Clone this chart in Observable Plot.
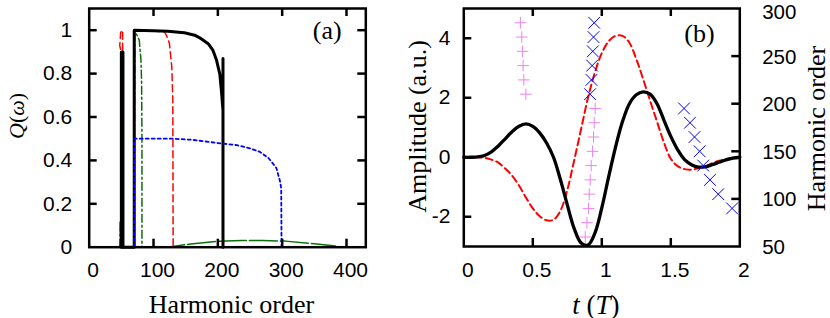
<!DOCTYPE html>
<html><head><meta charset="utf-8">
<script src="https://cdn.jsdelivr.net/npm/d3@7"></script>
<script src="https://cdn.jsdelivr.net/npm/@observablehq/plot@0.6"></script>
<style>
body{margin:0;background:#fff}
#wrap{position:relative;width:830px;height:318px;overflow:hidden;background:#fff}
#wrap svg{position:absolute;left:0;top:0}
</style></head><body><div id="wrap"></div>
<script>
// ---------- Panel (a) data: Q(omega) vs harmonic order ----------
const aXTicks = [0, 100, 200, 300, 400];
const aYTicks = [0, 0.2, 0.4, 0.6, 0.8, 1];

const blackH = [50, 50, 52.5, 52.5, 70, 70, 100, 122, 148, 164, 174, 185, 192.5, 198, 203, 205.5, 208, 208, 208];
const blackQ = [0, 0.9, 0.9, 0, 0, 1.0, 0.998, 0.995, 0.988, 0.977, 0.961, 0.938, 0.907, 0.861, 0.799, 0.722, 0.63, 0.87, 0];

const redH = [51, 51, 47.5, 49, 52, 52, 70, 70, 117, 121, 124.7, 128.4, 130, 130.5];
const redQ = [0, 0.88, 0.93, 0.99, 1.0, 0, 0, 1.0, 0.993, 0.97, 0.939, 0.83, 0.677, 0];

const greenH = [47.5, 48, 48.5, 70, 71, 73, 77.8, 80.5, 81.5, 82, 82];
const greenQ = [0, 0.12, 0, 0, 0.99, 0.985, 0.954, 0.862, 0.754, 0.5, 0];

const greenLowH = [105, 130, 158, 200, 237, 270, 305, 350, 383];
const greenLowQ = [0, 0.003, 0.015, 0.027, 0.031, 0.031, 0.028, 0.016, 0.006];

const blueH = [70, 70, 130, 160, 200, 230, 250, 265, 279, 291, 297, 298.5, 299];
const blueQ = [0, 0.5, 0.5, 0.495, 0.48, 0.47, 0.455, 0.44, 0.41, 0.365, 0.3, 0.27, 0];

// ---------- Panel (b) data: field amplitude vs t ----------
const bXTicks = [0, 0.5, 1, 1.5, 2];
const bYTicks = [-2, 0, 2, 4];
const bRTicks = [50, 100, 150, 200, 250, 300];

const tVals = [0, 0.05, 0.1, 0.15, 0.2, 0.25, 0.3, 0.35, 0.4, 0.45, 0.5, 0.55, 0.6, 0.65, 0.7, 0.75, 0.8, 0.85, 0.9, 0.95,
  1.0, 1.05, 1.1, 1.15, 1.2, 1.25, 1.3, 1.35, 1.4, 1.45, 1.5, 1.55, 1.6, 1.65, 1.7, 1.75, 1.8, 1.85, 1.9, 1.95, 2.0];
const blackAmp = [0, 0, 0.01, 0.06, 0.18, 0.38, 0.62, 0.86, 1.04, 1.12, 1.04, 0.82, 0.48, 0.0, -0.75, -1.6, -2.4, -2.88, -2.95, -2.55,
  -1.7, -0.65, 0.35, 1.2, 1.8, 2.1, 2.2, 2.12, 1.8, 1.25, 0.7, 0.25, -0.08, -0.25, -0.33, -0.32, -0.25, -0.17, -0.09, -0.03, 0];
const redAmp = [0, 0, 0, -0.02, -0.08, -0.18, -0.38, -0.62, -0.95, -1.35, -1.72, -1.98, -2.12, -2.1, -1.8, -1.1, -0.1, 0.95, 2.0, 2.85,
  3.5, 3.9, 4.08, 4.08, 3.85, 3.3, 2.62, 1.9, 1.2, 0.5, -0.05, -0.3, -0.4, -0.42, -0.37, -0.3, -0.2, -0.12, -0.06, -0.02, 0];

const plusT = [0.41, 0.42, 0.426, 0.43, 0.435, 0.45, 0.88, 0.892, 0.904, 0.909, 0.916, 0.923, 0.933, 0.94, 0.945, 0.952];
const plusH = [285, 270, 255, 240, 225, 210, 60, 75, 90, 105, 120, 135, 150, 165, 180, 195];
const crossT = [0.945, 0.94, 0.935, 0.93, 0.925, 0.915, 1.596, 1.639, 1.672, 1.709, 1.735, 1.784, 1.844, 1.944];
const crossH = [285, 270, 255, 240, 225, 210, 195, 180, 165, 150, 135, 120, 105, 90];

// ---------- helpers ----------
const W = 830, HT = 318;
const sans = "'Liberation Sans', Arial, Helvetica, sans-serif";
const serif = "'Liberation Serif', 'Times New Roman', serif";
const zip = (xs, ys) => xs.map((x, i) => ({x, y: ys[i]}));
const fmt = d => String(d);
const TL = 8, SW = 2.5;
const wrap = document.getElementById("wrap");

// ---------- Panel (a) ----------
const aL = 88.7, aR = 365.3, aT = 8, aB = 246.7;
const aFW = aR - aL, aFH = aB - aT;
const plotA = Plot.plot({
  width: W, height: HT,
  marginLeft: aL, marginRight: W - aR, marginTop: aT, marginBottom: HT - aB,
  style: {background: "transparent", overflow: "visible", fontFamily: sans},
  x: {domain: [0, 430]},
  y: {domain: [0, 1.1]},
  marks: [
    Plot.line(zip(redH, redQ), {x: "x", y: "y", stroke: "#ff0000", strokeWidth: 1.5, strokeDasharray: "7,4"}),
    Plot.line(zip(greenH, greenQ), {x: "x", y: "y", stroke: "#0b6e0b", strokeWidth: 1.5, strokeDasharray: "8,3,2,3"}),
    Plot.line(zip(greenLowH, greenLowQ), {x: "x", y: "y", stroke: "#0b6e0b", strokeWidth: 1.5, strokeDasharray: "28,3"}),
    Plot.line(zip(blackH, blackQ), {x: "x", y: "y", stroke: "black", strokeWidth: 3}),
    Plot.line(zip(blueH, blueQ), {x: "x", y: "y", stroke: "#0000ff", strokeWidth: 1.8, strokeDasharray: "3,3"}),
    Plot.tickX(aXTicks.slice(1), {x: d => d, insetTop: aFH - TL, stroke: "black", strokeWidth: SW}),
    Plot.tickX(aXTicks.slice(1), {x: d => d, insetBottom: aFH - TL, stroke: "black", strokeWidth: SW}),
    Plot.tickY(aYTicks.slice(1), {y: d => d, insetRight: aFW - TL, stroke: "black", strokeWidth: SW}),
    Plot.tickY(aYTicks.slice(1), {y: d => d, insetLeft: aFW - TL, stroke: "black", strokeWidth: SW}),
    Plot.frame({stroke: "black", strokeWidth: SW}),
    Plot.axisX(aXTicks, {tickSize: 0, tickPadding: 15, fontSize: 21, fontFamily: sans, label: null, tickFormat: fmt, dx: 4}),
    Plot.axisY(aYTicks, {tickSize: 0, tickPadding: 17, fontSize: 21, fontFamily: sans, label: null, tickFormat: fmt}),
    Plot.text(["(a)"], {x: 370, y: 1, text: d => d, fontSize: 26, fontFamily: serif}),
    Plot.text(["Harmonic order"], {frameAnchor: "bottom", text: d => d, textAnchor: "middle", lineAnchor: "bottom", dy: 66, dx: 4, fontSize: 26, fontFamily: serif}),
    Plot.text(["Q(ω)"], {frameAnchor: "left", text: d => d, textAnchor: "middle", lineAnchor: "middle", rotate: -90, dx: -72.7, dy: -12, fontSize: 22, fontFamily: serif})
  ]
});
wrap.appendChild(plotA);

// ---------- Panel (b) ----------
const bL = 463.3, bR = 739.3, bT = 8, bB = 246;
const bFW = bR - bL, bFH = bB - bT;
const plotB = Plot.plot({
  width: W, height: HT,
  marginLeft: bL, marginRight: W - bR, marginTop: bT, marginBottom: HT - bB,
  style: {background: "transparent", overflow: "visible", fontFamily: sans},
  x: {domain: [0, 2]},
  y: {domain: [-3, 5]},
  marks: [
    Plot.line(zip(tVals, redAmp), {x: "x", y: "y", stroke: "#ff0000", strokeWidth: 2, strokeDasharray: "7,4", curve: "catmull-rom"}),
    Plot.line(zip(tVals, blackAmp), {x: "x", y: "y", stroke: "black", strokeWidth: 3.3, curve: "catmull-rom"}),
    Plot.tickX(bXTicks.slice(1, -1), {x: d => d, insetTop: bFH - TL, stroke: "black", strokeWidth: SW}),
    Plot.tickX(bXTicks.slice(1, -1), {x: d => d, insetBottom: bFH - TL, stroke: "black", strokeWidth: SW}),
    Plot.tickY(bYTicks, {y: d => d, insetRight: bFW - TL, stroke: "black", strokeWidth: SW}),
    Plot.frame({stroke: "black", strokeWidth: SW}),
    Plot.axisX(bXTicks, {tickSize: 0, tickPadding: 15.5, fontSize: 21, fontFamily: sans, label: null, tickFormat: fmt, dx: 4}),
    Plot.axisY(bYTicks, {tickSize: 0, tickPadding: 13.3, fontSize: 21, fontFamily: sans, label: null, tickFormat: fmt}),
    Plot.text(["(b)"], {x: 1.708, y: 4.16, text: d => d, fontSize: 26, fontFamily: serif}),
    Plot.text(["t (T)"], {frameAnchor: "bottom", text: d => d, textAnchor: "middle", lineAnchor: "bottom", dy: 67, dx: -6, fontSize: 27, fontFamily: serif}),
    Plot.text(["Amplitude (a.u.)"], {frameAnchor: "left", text: d => d, textAnchor: "middle", lineAnchor: "middle", rotate: -90, dx: -46.6, dy: -1, fontSize: 26, fontFamily: serif})
  ]
});
wrap.appendChild(plotB);

// ---------- Panel (b) overlay: harmonic order (right axis) ----------
const plotC = Plot.plot({
  width: W, height: HT,
  marginLeft: bL, marginRight: W - bR, marginTop: bT, marginBottom: HT - bB,
  style: {background: "transparent", overflow: "visible", fontFamily: sans},
  x: {domain: [0, 2], axis: null},
  y: {domain: [50, 300]},
  marks: [
    Plot.dot(zip(plusT, plusH), {x: "x", y: "y", symbol: "plus", r: 3.8, stroke: "#ee82ee", strokeWidth: 1}),
    Plot.dot(zip(crossT, crossH), {x: "x", y: "y", symbol: "times", r: 5.4, stroke: "#0000ff", strokeWidth: 1}),
    Plot.tickY(bRTicks.slice(1, -1), {y: d => d, insetLeft: bFW - TL, stroke: "black", strokeWidth: SW}),
    Plot.axisY(bRTicks.slice(0, -1), {anchor: "right", tickSize: 0, tickPadding: 22.4, fontSize: 20.5, fontFamily: sans, label: null, tickFormat: fmt, dy: 1}),
    Plot.axisY(bRTicks.slice(-1), {anchor: "right", tickSize: 0, tickPadding: 22.4, fontSize: 20.5, fontFamily: sans, label: null, tickFormat: fmt, dy: 3.5}),
    Plot.text(["Harmonic order"], {frameAnchor: "right", text: d => d, textAnchor: "middle", lineAnchor: "middle", rotate: -90, dx: 77, dy: 1, fontSize: 26, fontFamily: serif})
  ]
});
wrap.appendChild(plotC);

// Math-style labels: italic variables, upright parentheses
const ns = "http://www.w3.org/2000/svg";
function mathify(label, parts) {
  wrap.querySelectorAll("text").forEach(el => {
    if (el.textContent !== label) return;
    el.textContent = "";
    parts.forEach(([s, it]) => {
      const ts = document.createElementNS(ns, "tspan");
      ts.textContent = s;
      if (it) ts.setAttribute("font-style", "italic");
      el.appendChild(ts);
    });
  });
}
mathify("Q(ω)", [["Q", true], ["(", false], ["ω", true], [")", false]]);
mathify("t (T)", [["t", true], [" (", false], ["T", true], [")", false]]);
</script>
</body></html>
